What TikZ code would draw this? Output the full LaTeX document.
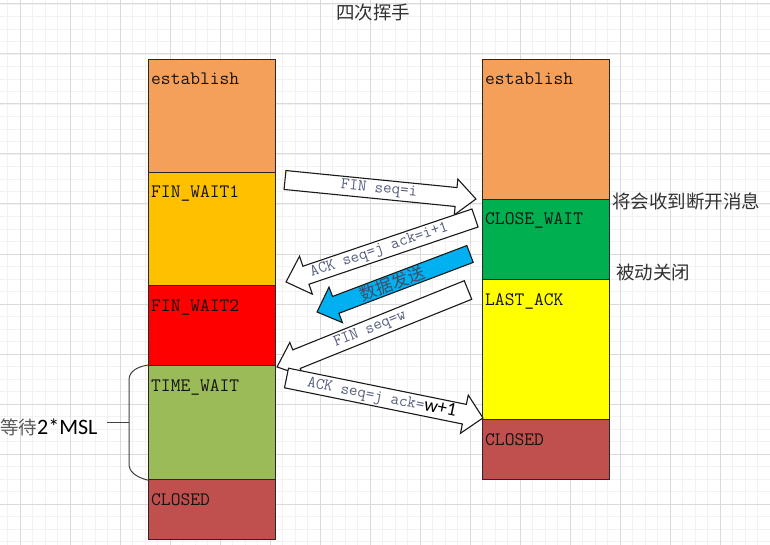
\documentclass[tikz,border=0pt]{standalone}
\usepackage{fontspec}
\setmainfont{Liberation Serif}
\newfontfamily\monof{Latin Modern Mono}
\newfontfamily\cjkf{Noto Sans CJK SC}
\newfontfamily\calf{Carlito}
\definecolor{minorc}{RGB}{242,242,242}
\definecolor{majorc}{RGB}{218,218,218}
\definecolor{boxline}{RGB}{40,40,40}
\definecolor{cest}{RGB}{245,160,90}
\definecolor{cfw1}{RGB}{255,192,0}
\definecolor{cfw2}{RGB}{255,0,0}
\definecolor{ctw}{RGB}{155,187,89}
\definecolor{ccl}{RGB}{192,80,77}
\definecolor{ccw}{RGB}{0,176,80}
\definecolor{cla}{RGB}{255,255,0}
\definecolor{cblue}{RGB}{0,176,240}
\definecolor{arrtext}{RGB}{85,95,125}
\definecolor{labtext}{RGB}{20,20,20}
\definecolor{cjktext}{RGB}{50,50,50}
\newcommand{\barrow}[8]{%
  \begin{scope}[shift={#2}, rotate=#3]
    \draw[#8] (0,-#6) -- ({#4-#5},-#6) -- ({#4-#5},-#7) -- (#4,0) -- ({#4-#5},#7) -- ({#4-#5},#6) -- (0,#6) -- cycle;
    \coordinate (#1) at (0,0);
  \end{scope}}
\tikzset{
  box/.style={draw=boxline, line width=1.2pt, minimum width=127pt, inner sep=0pt, anchor=north west},
  lbl/.style={anchor=base west, font=\monof\fontsize{19}{19}\selectfont, text=labtext, inner sep=0pt},
  arrbody/.style={draw=black!90, line width=1.1pt, fill=white, line join=miter},
  arrblue/.style={draw=black!90, line width=1.1pt, fill=cblue, line join=miter},
  atxt/.style={font=\monof\fontsize{16.5}{16.5}\selectfont, text=arrtext, inner sep=0pt, transform shape},
  cjk/.style={font=\cjkf\fontsize{18.5}{20}\selectfont, text=cjktext, inner sep=0pt},
  minorg/.style={draw=minorc, line width=0.9pt},
  majorg/.style={draw=majorc, line width=1pt}
}
\begin{document}
\begin{tikzpicture}[x=1pt, y=-1pt]
\useasboundingbox (0,0) rectangle (770,545);
\fill[white] (0,0) rectangle (770,545);
% grid
\foreach \i in {0,...,61} \draw[minorg] ({7.5+12.5*\i},0) -- ({7.5+12.5*\i},545);
\foreach \j in {0,...,43} \draw[minorg] (0,{4+12.5*\j}) -- (770,{4+12.5*\j});
\foreach \i in {0,...,15} \draw[majorg] ({20+50*\i},0) -- ({20+50*\i},545);
\foreach \j in {0,...,10} \draw[majorg] (0,{4+50*\j}) -- (770,{4+50*\j});

% left column
\node[box, fill=cest, minimum height=113pt] (L1) at (148,59) {};
\node[box, fill=cfw1, minimum height=113pt] (L2) at (148,172) {};
\node[box, fill=cfw2, minimum height=80pt] (L3) at (148,285) {};
\node[box, fill=ctw, minimum height=114pt] (L4) at (148,365) {};
\node[box, fill=ccl, minimum height=60pt] (L5) at (148,479) {};
% right column
\node[box, fill=cest, minimum height=140pt] (R1) at (482,59) {};
\node[box, fill=ccw, minimum height=80pt] (R2) at (482,199) {};
\node[box, fill=cla, minimum height=140pt] (R3) at (482,279) {};
\node[box, fill=ccl, minimum height=60pt] (R4) at (482,419) {};

\node[lbl] (tL1) at ([xshift=3pt,yshift=-26pt]L1.north west) {establish};
\node[lbl] (tL2) at ([xshift=3pt,yshift=-26pt]L2.north west) {FIN\_WAIT1};
\node[lbl] (tL3) at ([xshift=3pt,yshift=-26pt]L3.north west) {FIN\_WAIT2};
\node[lbl] (tL4) at ([xshift=3pt,yshift=-26pt]L4.north west) {TIME\_WAIT};
\node[lbl] (tL5) at ([xshift=3pt,yshift=-26pt]L5.north west) {CLOSED};
\node[lbl] (tR1) at ([xshift=3pt,yshift=-26pt]R1.north west) {establish};
\node[lbl] (tR2) at ([xshift=3pt,yshift=-26pt]R2.north west) {CLOSE\_WAIT};
\node[lbl] (tR3) at ([xshift=3pt,yshift=-26pt]R3.north west) {LAST\_ACK};
\node[lbl] (tR4) at ([xshift=3pt,yshift=-26pt]R4.north west) {CLOSED};

% block arrows
\barrow{a1}{(285,180)}{-5.68}{191.9}{20}{9.5}{18}{arrbody}
\begin{scope}[shift={(a1)}, rotate=-5.68]
  \node[atxt] (ta1) at (94.5,0) {FIN seq=i};
\end{scope}
\barrow{a2}{(475,218)}{198.7}{199.5}{21}{9.5}{20}{arrbody}
\begin{scope}[shift={(a2)}, rotate=198.7]
  \node[atxt, rotate=180] (ta2) at (101,0) {ACK seq=j ack=i+1};
\end{scope}
\barrow{a3}{(470,254)}{200.76}{163.6}{20}{9}{19}{arrblue}
\begin{scope}[shift={(a3)}, rotate=200.76]
  \node[atxt, rotate=180, font=\cjkf\fontsize{17}{17}\selectfont, text=arrtext!80!black] (ta3) at (83,0) {数据发送};
\end{scope}
\barrow{a4}{(468,290)}{201.96}{205.9}{21}{10}{18}{arrbody}
\begin{scope}[shift={(a4)}, rotate=201.96]
  \node[atxt, rotate=180] (ta4) at (105.6,0) {FIN seq=w};
\end{scope}
\barrow{a5}{(286.5,378)}{-11.5}{200.5}{19}{10}{19.5}{arrbody}
\begin{scope}[shift={(a5)}, rotate=-11.5]
  \node[atxt] (ta5) at (97.4,0) {ACK seq=j ack={\calf\color{black}\fontsize{19}{19}\selectfont w+1}};
\end{scope}

% texts
\node[cjk] (title) at (373,13) {四次挥手};
\node[cjk, anchor=west] (msg) at (612,201) {将会收到断开消息};
\node[cjk, anchor=west] (passive) at (616,272) {被动关闭};
\node[anchor=west, inner sep=0pt] (wait) at (0,427) {{\cjkf\fontsize{18.5}{20}\selectfont\color{cjktext!80}等待}{\calf\fontsize{22}{22}\selectfont 2*MSL}};

% bracket
\coordinate (bk) at (129,422);
\coordinate (wl) at (107,422);
\draw[draw=black!75, line width=1pt] (L4.north west) .. controls (136,367) and (129,372) .. (129,380) -- (129,464) .. controls (129,472) and (136,477) .. (L4.south west);
\draw[draw=black!75, line width=1pt] (wl) -- (bk);
\end{tikzpicture}
\end{document}
